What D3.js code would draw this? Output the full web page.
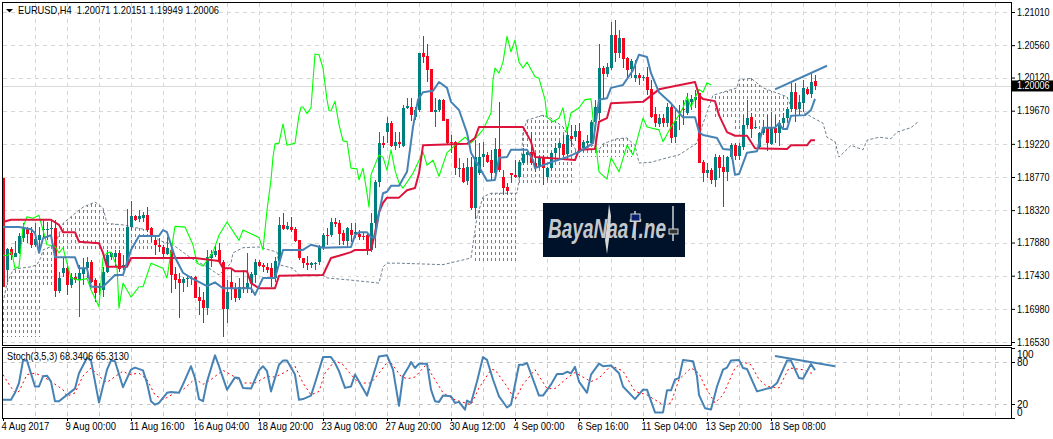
<!DOCTYPE html>
<html><head><meta charset="utf-8">
<style>html,body{margin:0;padding:0;background:#fff;overflow:hidden}svg{display:block}text{font-family:"Liberation Sans",Arial,sans-serif;fill:#000}</style>
<script src="https://cdn.jsdelivr.net/npm/d3@7"></script>
</head><body><svg id="c" width="1053" height="439"></svg>
<script>
const title="EURUSD,H4  1.20071 1.20151 1.19949 1.20006";
const stochTitle="Stoch(3,5,3) 68.3406 65.3130";
const lastPrice=1.20006;
const priceTicks=[1.2101,1.2056,1.2012,1.1967,1.1922,1.1877,1.1832,1.1788,1.1743,1.1698,1.1653];
const stochTicks=[0,20,80,100];
const timeLabels=["4 Aug 2017","9 Aug 00:00","11 Aug 16:00","16 Aug 04:00","18 Aug 20:00","23 Aug 08:00","27 Aug 20:00","30 Aug 12:00","4 Sep 00:00","6 Sep 16:00","11 Sep 04:00","13 Sep 20:00","18 Sep 08:00"];
// one row per 4-hour bar: open, high, low, close
const ohlc=[
[1.1876,1.1876,1.1728,1.1728],[1.1751,1.1781,1.1734,1.1779],[1.1779,1.1782,1.1764,1.1771],[1.1768,1.1790,1.1768,1.1774],
[1.1774,1.1801,1.1773,1.1797],[1.1794,1.1814,1.1789,1.1809],[1.1806,1.1809,1.1787,1.1800],[1.1801,1.1809,1.1781,1.1785],
[1.1785,1.1814,1.1782,1.1793],[1.1791,1.1809,1.1774,1.1798],[1.1805,1.1819,1.1795,1.1806],[1.1805,1.1816,1.1791,1.1806],
[1.1806,1.1819,1.1791,1.1808],[1.1808,1.1819,1.1714,1.1722],[1.1722,1.1748,1.1719,1.1740],[1.1747,1.1768,1.1741,1.1753],
[1.1753,1.1760,1.1717,1.1730],[1.1730,1.1747,1.1726,1.1741],[1.1741,1.1747,1.1733,1.1737],[1.1737,1.1758,1.1687,1.1747],
[1.1745,1.1767,1.1730,1.1753],[1.1753,1.1768,1.1740,1.1762],[1.1762,1.1764,1.1733,1.1734],[1.1737,1.1740,1.1707,1.1719],
[1.1728,1.1733,1.1717,1.1726],[1.1724,1.1755,1.1714,1.1748],[1.1748,1.1778,1.1747,1.1771],[1.1768,1.1775,1.1764,1.1774],
[1.1768,1.1778,1.1755,1.1774],[1.1774,1.1778,1.1748,1.1752],[1.1755,1.1771,1.1751,1.1758],[1.1758,1.1834,1.1755,1.1809],
[1.1809,1.1844,1.1805,1.1824],[1.1824,1.1825,1.1817,1.1819],[1.1820,1.1832,1.1816,1.1824],[1.1821,1.1829,1.1816,1.1825],
[1.1825,1.1836,1.1802,1.1805],[1.1808,1.1809,1.1789,1.1797],[1.1791,1.1798,1.1771,1.1785],[1.1785,1.1794,1.1775,1.1782],
[1.1782,1.1785,1.1768,1.1773],[1.1773,1.1795,1.1771,1.1781],[1.1778,1.1778,1.1719,1.1744],[1.1745,1.1755,1.1725,1.1737],
[1.1739,1.1747,1.1686,1.1733],[1.1733,1.1741,1.1721,1.1739],[1.1739,1.1743,1.1728,1.1740],[1.1739,1.1743,1.1730,1.1740],
[1.1741,1.1743,1.1713,1.1713],[1.1714,1.1728,1.1690,1.1709],[1.1710,1.1721,1.1679,1.1699],[1.1699,1.1778,1.1690,1.1768],
[1.1767,1.1778,1.1755,1.1773],[1.1771,1.1785,1.1768,1.1777],[1.1778,1.1787,1.1760,1.1762],[1.1762,1.1764,1.1660,1.1698],
[1.1698,1.1737,1.1679,1.1721],[1.1734,1.1751,1.1710,1.1725],[1.1725,1.1733,1.1707,1.1713],[1.1713,1.1740,1.1710,1.1728],
[1.1728,1.1751,1.1719,1.1726],[1.1725,1.1774,1.1719,1.1733],[1.1733,1.1748,1.1719,1.1745],[1.1744,1.1766,1.1733,1.1762],
[1.1762,1.1764,1.1755,1.1756],[1.1758,1.1760,1.1748,1.1755],[1.1755,1.1760,1.1747,1.1751],[1.1753,1.1760,1.1728,1.1740],
[1.1740,1.1768,1.1734,1.1763],[1.1763,1.1823,1.1762,1.1812],[1.1812,1.1828,1.1805,1.1806],[1.1806,1.1816,1.1805,1.1810],
[1.1809,1.1823,1.1802,1.1805],[1.1806,1.1809,1.1789,1.1790],[1.1791,1.1791,1.1764,1.1767],[1.1767,1.1767,1.1753,1.1760],
[1.1760,1.1770,1.1751,1.1758],[1.1758,1.1762,1.1753,1.1760],[1.1759,1.1762,1.1751,1.1760],[1.1762,1.1785,1.1758,1.1782],
[1.1782,1.1801,1.1778,1.1798],[1.1798,1.1808,1.1785,1.1797],[1.1798,1.1821,1.1795,1.1816],[1.1816,1.1821,1.1809,1.1813],
[1.1814,1.1819,1.1785,1.1800],[1.1801,1.1805,1.1785,1.1790],[1.1790,1.1809,1.1782,1.1808],[1.1805,1.1814,1.1789,1.1798],
[1.1800,1.1814,1.1794,1.1802],[1.1800,1.1805,1.1791,1.1795],[1.1797,1.1801,1.1791,1.1795],[1.1798,1.1801,1.1771,1.1778],
[1.1778,1.1828,1.1775,1.1814],[1.1814,1.1873,1.1781,1.1870],[1.1870,1.1938,1.1863,1.1923],[1.1923,1.1933,1.1916,1.1920],
[1.1938,1.1958,1.1923,1.1950],[1.1950,1.1953,1.1918,1.1919],[1.1919,1.1938,1.1914,1.1925],[1.1925,1.1938,1.1916,1.1922],
[1.1919,1.1975,1.1918,1.1971],[1.1971,1.1984,1.1969,1.1973],[1.1972,1.1984,1.1953,1.1961],[1.1958,1.1972,1.1954,1.1968],
[1.1968,1.2045,1.1965,1.2045],[1.2045,1.2068,1.2032,1.2040],[1.2041,1.2058,1.2006,1.2022],[1.2024,1.2024,1.1965,1.1965],
[1.1965,1.1984,1.1945,1.1968],[1.1968,1.1983,1.1965,1.1982],[1.1982,1.1983,1.1953,1.1953],[1.1956,1.1956,1.1922,1.1923],
[1.1925,1.1934,1.1910,1.1923],[1.1925,1.1926,1.1880,1.1889],[1.1888,1.1903,1.1877,1.1889],[1.1889,1.1896,1.1869,1.1870],
[1.1872,1.1903,1.1866,1.1891],[1.1891,1.1904,1.1832,1.1835],[1.1835,1.1927,1.1820,1.1904],[1.1882,1.1923,1.1880,1.1904],
[1.1904,1.1925,1.1891,1.1908],[1.1907,1.1911,1.1896,1.1897],[1.1900,1.1914,1.1873,1.1882],[1.1882,1.1930,1.1876,1.1915],
[1.1915,1.1979,1.1884,1.1886],[1.1877,1.1886,1.1853,1.1862],[1.1863,1.1869,1.1853,1.1858],[1.1882,1.1882,1.1869,1.1880],
[1.1880,1.1900,1.1876,1.1877],[1.1877,1.1900,1.1876,1.1897],[1.1896,1.1916,1.1893,1.1908],[1.1907,1.1914,1.1896,1.1911],
[1.1911,1.1938,1.1893,1.1896],[1.1896,1.1910,1.1884,1.1891],[1.1891,1.1907,1.1889,1.1903],[1.1903,1.1907,1.1866,1.1889],
[1.1877,1.1891,1.1873,1.1889],[1.1889,1.1911,1.1886,1.1910],[1.1910,1.1923,1.1900,1.1916],[1.1916,1.1926,1.1903,1.1923],
[1.1922,1.1934,1.1904,1.1907],[1.1908,1.1945,1.1904,1.1934],[1.1933,1.1948,1.1918,1.1929],[1.1931,1.1948,1.1926,1.1939],
[1.1939,1.1950,1.1911,1.1911],[1.1916,1.1927,1.1911,1.1925],[1.1923,1.1934,1.1916,1.1926],[1.1923,1.1954,1.1920,1.1952],
[1.1952,1.1982,1.1941,1.1972],[1.1964,1.2058,1.1954,1.2025],[1.2025,1.2028,1.1984,1.2017],[1.2017,1.2032,1.2013,1.2026],
[1.2025,1.2087,1.2022,1.2070],[1.2070,1.2090,1.2033,1.2045],[1.2045,1.2077,1.2039,1.2066],[1.2066,1.2066,1.2025,1.2037],
[1.2039,1.2040,1.2011,1.2022],[1.2024,1.2037,1.2011,1.2034],[1.2011,1.2036,1.2006,1.2015],[1.2015,1.2018,1.2002,1.2011],
[1.2011,1.2015,1.2007,1.2013],[1.2013,1.2026,1.1988,1.1995],[1.1996,1.2009,1.1957,1.1958],[1.1963,1.1972,1.1945,1.1950],
[1.1949,1.1963,1.1945,1.1957],[1.1957,1.1963,1.1945,1.1950],[1.1950,1.1977,1.1945,1.1972],[1.1972,1.1975,1.1923,1.1930],
[1.1931,1.1968,1.1923,1.1953],[1.1967,1.1975,1.1941,1.1964],[1.1969,1.1982,1.1948,1.1968],[1.1964,1.1991,1.1961,1.1982],
[1.1979,1.1988,1.1968,1.1983],[1.1982,1.1995,1.1971,1.1986],[1.1991,1.1991,1.1896,1.1896],[1.1897,1.1900,1.1870,1.1882],
[1.1882,1.1896,1.1876,1.1886],[1.1886,1.1889,1.1868,1.1873],[1.1873,1.1908,1.1863,1.1904],[1.1904,1.1907,1.1876,1.1889],
[1.1891,1.1907,1.1836,1.1884],[1.1884,1.1906,1.1872,1.1904],[1.1904,1.1923,1.1901,1.1920],[1.1920,1.1923,1.1900,1.1906],
[1.1906,1.1923,1.1900,1.1919],[1.1918,1.1961,1.1914,1.1948],[1.1948,1.1982,1.1945,1.1957],[1.1958,1.1964,1.1930,1.1942],
[1.1944,1.1952,1.1942,1.1945],[1.1918,1.1938,1.1916,1.1937],[1.1937,1.1954,1.1934,1.1944],[1.1944,1.1961,1.1912,1.1923],
[1.1922,1.1965,1.1920,1.1945],[1.1944,1.1961,1.1923,1.1937],[1.1937,1.1954,1.1919,1.1950],[1.1950,1.1964,1.1945,1.1957],
[1.1957,1.1972,1.1952,1.1969],[1.1969,1.2005,1.1965,1.1992],[1.1992,1.2005,1.1952,1.1969],[1.1969,1.1988,1.1961,1.1979],
[1.1977,1.2009,1.1965,1.1998],[1.1996,1.1999,1.1988,1.1990],[1.1990,1.2017,1.1984,1.2006],[1.20071,1.20151,1.19949,1.20006]];
// [bar, price] readings
const kijun=[[0,1.1816],[2,1.1819],[12,1.1819],[14,1.1812],[15,1.1802],[18,1.1802],[19,1.1789],[24,1.1787],[25,1.1774],[26,1.1755],[31,1.1755],[32,1.1767],[48,1.1767],[54,1.1763],[55,1.1753],[57,1.1753],[58,1.1749],[61,1.1749],[62,1.1733],[64,1.1726],[68,1.1726],[69,1.1743],[80,1.1744],[82,1.1767],[84,1.1770],[87,1.1775],[88,1.1778],[92,1.1778],[93,1.1801],[94,1.1829],[95,1.1842],[96,1.1849],[99,1.1849],[101,1.1859],[103,1.1862],[104,1.1882],[105,1.1920],[116,1.1922],[118,1.1930],[119,1.1945],[130,1.1945],[132,1.1925],[133,1.1904],[143,1.1900],[144,1.1914],[148,1.1915],[149,1.1952],[151,1.1957],[152,1.1977],[160,1.1979],[164,1.1996],[173,1.2006],[174,1.1988],[175,1.1983],[178,1.1980],[179,1.1961],[181,1.1938],[183,1.1933],[186,1.1933],[188,1.1916],[196,1.1915],[197,1.1920],[201,1.1920],[202,1.1927],[203,1.1927]];
const tenkan=[[0,1.1809],[4,1.1809],[7,1.1806],[8,1.1801],[9,1.1774],[10,1.1794],[12,1.1798],[13,1.1768],[18,1.1768],[19,1.1753],[21,1.1753],[22,1.1728],[25,1.1728],[28,1.1744],[30,1.1744],[32,1.1778],[34,1.1797],[39,1.1797],[40,1.1805],[41,1.1802],[43,1.1768],[45,1.1747],[47,1.1740],[51,1.1729],[53,1.1734],[55,1.1726],[62,1.1726],[63,1.1717],[65,1.1740],[68,1.1740],[70,1.1778],[75,1.1778],[77,1.1785],[80,1.1781],[87,1.1782],[88,1.1798],[89,1.1802],[91,1.1802],[92,1.1795],[93,1.1795],[94,1.1828],[95,1.1855],[96,1.1857],[97,1.1865],[99,1.1865],[101,1.1884],[102.5,1.1945],[103.75,1.1982],[105,1.1992],[107.5,1.1994],[109,1.2006],[111,1.1998],[112,1.1979],[114,1.1968],[116,1.1937],[117,1.1910],[119,1.1891],[121,1.1872],[123,1.1873],[124,1.1903],[126,1.1904],[127,1.1914],[131,1.1914],[132.5,1.1900],[133,1.1889],[137,1.1897],[141,1.1904],[144,1.1911],[147.5,1.1923],[149,1.1982],[151,1.1984],[152,1.1998],[155,1.2002],[157.5,1.2022],[159,1.2043],[161,1.2040],[162,1.2018],[164,1.1992],[167,1.1977],[170,1.1958],[173,1.1958],[174,1.1938],[175,1.1934],[178.5,1.1930],[180,1.1915],[182,1.1914],[183,1.1880],[184,1.1881],[186,1.1910],[188.5,1.1912],[190,1.1944],[193,1.1944],[194,1.1950],[195,1.1942],[196,1.1942],[197,1.1960],[200.5,1.1961],[202,1.1968],[203,1.1983]];
const chikou=[[0,1.1771],[1,1.1770],[2,1.1775],[2.5,1.1767],[3,1.1753],[4,1.1755],[4.5,1.1782],[5,1.1809],[6,1.1823],[7.5,1.1821],[9,1.1825],[10,1.1805],[11,1.1785],[13,1.1783],[14,1.1774],[15,1.1781],[16,1.1760],[17,1.1740],[19,1.1737],[21,1.1739],[22,1.1724],[24,1.1701],[25,1.1767],[26,1.1774],[27,1.1775],[28.5,1.1755],[29,1.1699],[30,1.1733],[32,1.1714],[34,1.1728],[35,1.1728],[37,1.1760],[40,1.1753],[41,1.1740],[43,1.1810],[45.5,1.1809],[47.5,1.1785],[48.5,1.1760],[50,1.1756],[52.5,1.1775],[54,1.1798],[56,1.1816],[59,1.1791],[60,1.1805],[64,1.1795],[65,1.1778],[66,1.1832],[67,1.1873],[67.5,1.1904],[68,1.1922],[69,1.1923],[70,1.1949],[71,1.1920],[73,1.1923],[74,1.1961],[74.5,1.1972],[75,1.1972],[76,1.1963],[77,1.1971],[78,1.2044],[79,1.2043],[80,1.2025],[81,1.1982],[81.5,1.1967],[82,1.1967],[83,1.1980],[84,1.1948],[85,1.1926],[86,1.1925],[87,1.1889],[88.5,1.1888],[89,1.1873],[90,1.1889],[91,1.1855],[91.5,1.1836],[92,1.1880],[94,1.1907],[95,1.1904],[96,1.1886],[97,1.1914],[98,1.1886],[99,1.1869],[100,1.1862],[102.5,1.1882],[105,1.1911],[106,1.1893],[107.5,1.1900],[109,1.1878],[111,1.1910],[113,1.1920],[115.5,1.1931],[117,1.1923],[120,1.1941],[122,1.1964],[122.5,1.2009],[123,1.2025],[124,1.2018],[125,1.2033],[126,1.2068],[127,1.2047],[128,1.2063],[129,1.2033],[130,1.2025],[131,1.2033],[133,1.2013],[134,1.2011],[135.5,1.1982],[136,1.1958],[137.5,1.1952],[139,1.1957],[140,1.1971],[141,1.1938],[142,1.1964],[144,1.1971],[145.5,1.1982],[147,1.1983],[148,1.1931],[149,1.1884],[151,1.1874],[152,1.1903],[154,1.1884],[156,1.1920],[157.5,1.1907],[160,1.1957],[161,1.1945],[164,1.1941],[165,1.1925],[167,1.1945],[169,1.1961],[170,1.1971],[171,1.1986],[172,1.1972],[174,1.1996],[175,1.1992],[176,1.2005],[177,1.2002]];
const spanA=[[0,1.1706],[1,1.1733],[2.5,1.1751],[4,1.1753],[7,1.1755],[8.5,1.1758],[9.5,1.1768],[10,1.1778],[13,1.1785],[15,1.1814],[17,1.1823],[20,1.1836],[23,1.1843],[25,1.1835],[26,1.1814],[30,1.1812],[36,1.1805],[39,1.1791],[42.5,1.1785],[47,1.1767],[51,1.1755],[54,1.1744],[57,1.1760],[57.5,1.1774],[60,1.1781],[64,1.1782],[68.5,1.1775],[69,1.1758],[72.5,1.1753],[74,1.1744],[80,1.1744],[81,1.1740],[87,1.1737],[94,1.1733],[95,1.1755],[96,1.1760],[99,1.1760],[110,1.1758],[117,1.1767],[118.5,1.1823],[120,1.1850],[122,1.1855],[128.5,1.1855],[129.5,1.1891],[130,1.1938],[131,1.1954],[135,1.1961],[137,1.1957],[140,1.1945],[143.5,1.1911],[147.5,1.1920],[148.5,1.1910],[150,1.1922],[153.5,1.1929],[156,1.1930],[158,1.1920],[159,1.1896],[162,1.1897],[166,1.1903],[169,1.1907],[173.5,1.1923],[174,1.1934],[177.5,1.1988],[183.5,1.1998],[184,1.2009],[187,1.2011],[190,1.1998],[196,1.1986],[197,1.1972],[200,1.1965],[205,1.1950],[206,1.1931],[208,1.1925],[209,1.1904],[212,1.1920],[215,1.1914],[216,1.1927],[219,1.1931],[222,1.1929],[223.5,1.1938],[227,1.1944],[229,1.1953]];
const spanB=[[0,1.1660],[9,1.1660],[10,1.1728],[13,1.1728],[14,1.1778],[40,1.1778],[41,1.1805],[70,1.1805],[71,1.1794],[117,1.1794],[118,1.1762],[128,1.1762],[129,1.1869],[142,1.1869],[143,1.1904],[157,1.1904],[158,1.1920],[173,1.1920],[174,1.1990],[177,1.1990],[178,1.1957],[182,1.1957],[183,1.1941],[196,1.1941],[197,1.1975],[229,1.1975]];
const stochMain=[[0,26],[2,26],[3,36],[4,50],[5,82],[6,82],[8,45],[9,45],[10,59.5],[11,60.5],[12,52],[13,24],[14,24],[16,33],[18,42],[19,64],[21,86],[22,82],[24,22],[26,69],[27,82],[28,81],[30,44],[32,69],[33,72],[35,68],[36,50],[37,24],[38,19],[39,21.5],[41,36],[42,37],[44,36],[45,48],[47,74],[48,57],[49,27],[50,24],[51,52],[53,89.5],[54,74],[56,40.5],[58,58],[59,57],[60,43],[62,42],[64,68],[65,74],[66,67],[67,38],[69,76],[70,82],[71,82],[73,62],[74,26],[75,27],[77,32],[78,50],[80,87],[82,87],[83,78.6],[84,67],[85.5,43],[87,45],[88,62],[91,32],[93.5,78.6],[94,88],[96,89.5],[97.5,69],[99,17.5],[100,59.5],[101.5,74],[102,80],[103,71.5],[104,77.6],[106,77.6],[107,40.5],[108,24],[109,23],[110,32],[112,31],[113,21.5],[114,23],[115.5,12],[116,25],[117,21.5],[118.5,52],[120,87],[121,83],[122.5,55],[124,31],[126,15],[127,19],[129,76],[130,76],[131,78.6],[134,32],[135,32],[137,48],[138.5,63],[140,63],[141,66],[142,64],[143,73],[144,52],[146,36],[147,62],[149,77.6],[150,74],[152,75],[154,64],[155,45],[158,27],[160,40.5],[161,40.5],[163,8],[165,8],[166,39.5],[167,39.5],[168,55],[169,57],[170,83],[172.5,81],[173.5,59.5],[174,33],[175.5,14],[177,12],[178.5,45],[180,69],[181,72],[182,82],[184,83],[185,71.5],[186,70],[188.5,38],[191,42],[192,43],[193.5,50],[196,82],[197,82],[199,57],[200,56],[202,77],[203,68.3406]];
const stochSignal=[[0,62],[1.5,48],[3,36],[4,38],[6,62],[8,64],[10,59.5],[12,52],[15,40.5],[16,31],[18,36],[20,60],[22,71.5],[24,59.5],[26,51],[27.5,57],[30,67],[31.5,62],[34,64],[36,55],[38,33],[40,26],[43,36],[45,40.5],[48,56],[50,48],[52,55],[55,68],[57,62],[60,50],[63,50],[66,59.5],[68,58.5],[70,64],[73,74],[75,50],[77,33],[79,38],[80.5,64],[83,82],[85,76],[87,62],[89,50],[92,50],[94,64],[96.5,83],[99.5,59.5],[101,56],[103,58.5],[106,77.6],[107,64],[110,36],[113,26],[117,19],[119,43],[122,69],[123,69],[126,45],[128,26],[130,48],[133,69],[136,42],[138,42],[141,57],[143,65],[147,52],[149,57],[152,75],[155,67],[158,38],[161,33],[165,19],[167,21.5],[169,55],[172,71.5],[174,64],[175.5,45],[178,21.5],[180,33],[183,71.5],[185,80],[187,76],[189,55],[191,45],[194,43],[196.5,71.5],[200,69],[202,64],[203,65.313]];
const trendPrice=[[193,1.1996],[206,1.2028]];
const trendStoch=[[193,88.6],[208,74]];

const BULL="#007f7f",BEAR="#f2071f",TENKAN="#4682b4",KIJUN="#dc143c",CHIKOU="#00ff00",KUMO="#708090",GRID="#d6d6d6";
const svg=d3.select("#c");
const x=d3.scaleLinear().domain([0,1]).range([3,7]);
const y=d3.scaleLinear().domain([1.2101,1.1653]).range([12,342]);
const ys=d3.scaleLinear().domain([0,100]).range([418,348]);
const L=2.5,R=1011;
const pLine=d3.line().x(d=>x(d[0])).y(d=>y(d[1]));
const sLine=d3.line().x(d=>x(d[0])).y(d=>ys(d[1]));

// grid
const gridBars=d3.range(8,256,8);
const g=svg.append("g").attr("stroke",GRID).attr("stroke-dasharray","4 4").attr("stroke-width",1).attr("shape-rendering","crispEdges");
g.selectAll("line.v").data(gridBars).join("line").attr("x1",d=>x(d)+.5).attr("x2",d=>x(d)+.5).attr("y1",3).attr("y2",345);
const g2=svg.append("g").attr("stroke","#c8c8c8").attr("stroke-dasharray","4 4").attr("stroke-width",1).attr("shape-rendering","crispEdges");
g2.selectAll("line.v2").data(gridBars).join("line").attr("x1",d=>x(d)+.5).attr("x2",d=>x(d)+.5).attr("y1",348).attr("y2",418);
g.selectAll("line.h").data(priceTicks).join("line").attr("x1",L).attr("x2",R).attr("y1",d=>Math.round(y(d))+.5).attr("y2",d=>Math.round(y(d))+.5);
g2.selectAll("line.s").data([20,80]).join("line").attr("x1",L).attr("x2",R).attr("y1",d=>Math.round(ys(d))+.5).attr("y2",d=>Math.round(ys(d))+.5);
svg.append("line").attr("x1",L).attr("x2",R).attr("y1",Math.round(y(lastPrice))+.5).attr("y2",Math.round(y(lastPrice))+.5).attr("stroke","#d9d9d9").attr("stroke-width",1);

// kumo hatching, one column per bar between the two spans
const look=s=>d3.scaleLinear().domain(s.map(d=>d[0])).range(s.map(d=>d[1]));
const la=look(spanA),lb=look(spanB);
const kumo=svg.append("g").attr("stroke-width",1).attr("shape-rendering","crispEdges").attr("stroke-dasharray","3 3");
kumo.selectAll("line").data(d3.range(0,230)).join("line")
 .attr("x1",d=>x(d)+.5).attr("x2",d=>x(d)+.5)
 .attr("y1",d=>Math.round(y(Math.max(la(d),lb(d)))))
 .attr("y2",d=>Math.round(y(Math.min(la(d),lb(d)))))
 .attr("stroke-dashoffset",d=>Math.round(y(Math.max(la(d),lb(d))))%6)
 .attr("stroke",d=>la(d)>lb(d)?KUMO:"#ffffff");
svg.append("path").attr("d",pLine(spanA)).attr("fill","none").attr("stroke",KUMO).attr("stroke-width",1).attr("stroke-dasharray","3 2");

// candles
const cg=svg.append("g").attr("shape-rendering","crispEdges");
const bars=cg.selectAll("g").data(ohlc).join("g");
const col=d=>d[3]>=d[0]?BULL:BEAR;
bars.append("line").attr("x1",(d,i)=>x(i)+.5).attr("x2",(d,i)=>x(i)+.5).attr("y1",d=>y(d[1])).attr("y2",d=>y(d[2])).attr("stroke",col);
bars.append("rect").attr("x",(d,i)=>x(i)-1).attr("width",3)
 .attr("y",d=>y(Math.max(d[0],d[3]))).attr("height",d=>Math.max(1,Math.abs(y(d[0])-y(d[3])))).attr("fill",col);

// ichimoku lines
const pl=(s,c,w)=>svg.append("path").attr("d",pLine(s)).attr("fill","none").attr("stroke",c).attr("stroke-width",w).attr("stroke-linejoin","round");
pl(chikou,CHIKOU,1.1);
pl(kijun,KIJUN,2);
pl(tenkan,TENKAN,2);
pl(trendPrice,TENKAN,2);

// stochastic
const sl=(s,c,w,dash)=>svg.append("path").attr("d",sLine(s)).attr("fill","none").attr("stroke",c).attr("stroke-width",w).attr("stroke-dasharray",dash||null).attr("stroke-linejoin","round");
sl(stochSignal,"#ff0000",1,"2 3");
sl(stochMain,TENKAN,2);
sl(trendStoch,TENKAN,2);

// watermark
const logo=svg.append("g");
logo.append("rect").attr("x",543).attr("y",203).attr("width",142).attr("height",54).attr("fill","#00122a");
logo.append("text").attr("x",548).attr("y",238).text("BayaNaaT.ne")
 .attr("font-size",27).attr("font-style","italic").attr("font-weight","bold")
 .attr("textLength",118).attr("lengthAdjust","spacingAndGlyphs").style("fill","#c4c8cc");
logo.append("path").attr("d","M609 204 L611 216 L610 232 L607 254 L605 240 L607 225Z").attr("fill","#d5d8da");
logo.append("line").attr("x1",635).attr("x2",635).attr("y1",211).attr("y2",240).attr("stroke","#cfd3d6").attr("stroke-width",1.5);
logo.append("rect").attr("x",631).attr("y",214).attr("width",9).attr("height",7).attr("fill","#0b1f6e").attr("stroke","#cfd3d6");
logo.append("line").attr("x1",673).attr("x2",673).attr("y1",206).attr("y2",241).attr("stroke","#cfd3d6").attr("stroke-width",1.5);
logo.append("rect").attr("x",669).attr("y",229).attr("width",9).attr("height",5).attr("fill","#333").attr("stroke","#cfd3d6");

// frames
const f=svg.append("g").attr("stroke","#000").attr("shape-rendering","crispEdges").attr("fill","none");
f.append("rect").attr("x",2).attr("y",2).attr("width",R-2).attr("height",343).attr("stroke-width",1);
f.append("rect").attr("x",2).attr("y",347.5).attr("width",R-2).attr("height",70.5).attr("stroke-width",1);

// axes
const narrow=(sel,k)=>sel.selectAll("text").each(function(){const w=this.getComputedTextLength();this.setAttribute("textLength",w*k);this.setAttribute("lengthAdjust","spacingAndGlyphs");});
const ax=svg.append("g").attr("transform",`translate(${R},0)`).call(d3.axisRight(y).tickValues(priceTicks).tickFormat(d3.format(".5f")).tickSize(4).tickPadding(2));
ax.select(".domain").remove();ax.selectAll("text").attr("font-size",10);narrow(ax,.9);
const axs=svg.append("g").attr("transform",`translate(${R},0)`).call(d3.axisRight(ys).tickValues(stochTicks).tickSize(4).tickPadding(2));
axs.select(".domain").remove();axs.selectAll("text").attr("font-size",10)
  .attr("transform",d=>d===100?"translate(0,6)":d===0?"translate(0,-6)":null);
const tickBars=timeLabels.map((_,i)=>i*16);
const at=svg.append("g").attr("transform","translate(0,418)").call(d3.axisBottom(x).tickValues(tickBars).tickFormat((d,i)=>timeLabels[i]).tickSize(3).tickPadding(2));
at.select(".domain").remove();at.selectAll("text").attr("font-size",10.5).attr("text-anchor","start").attr("dx",-2);narrow(at,.9);

// last price flag
svg.append("rect").attr("x",1012).attr("y",y(lastPrice)-5.5).attr("width",41).attr("height",11).attr("fill","#000");
svg.append("text").attr("x",1017).attr("y",y(lastPrice)+3.5).attr("font-size",10).attr("textLength",32.5).attr("lengthAdjust","spacingAndGlyphs").style("fill","#fff").text(d3.format(".5f")(lastPrice));

// headers
svg.append("path").attr("d",d3.line()([[6,9],[13,9],[9.5,12.5]])+"Z").attr("fill","#000");
svg.append("text").attr("x",18).attr("y",14).attr("font-size",10.5).attr("textLength",201).attr("lengthAdjust","spacingAndGlyphs").style("white-space","pre").text(title);
svg.append("text").attr("x",7).attr("y",360).attr("font-size",10.5).attr("textLength",122).attr("lengthAdjust","spacingAndGlyphs").text(stochTitle);
</script></body></html>
